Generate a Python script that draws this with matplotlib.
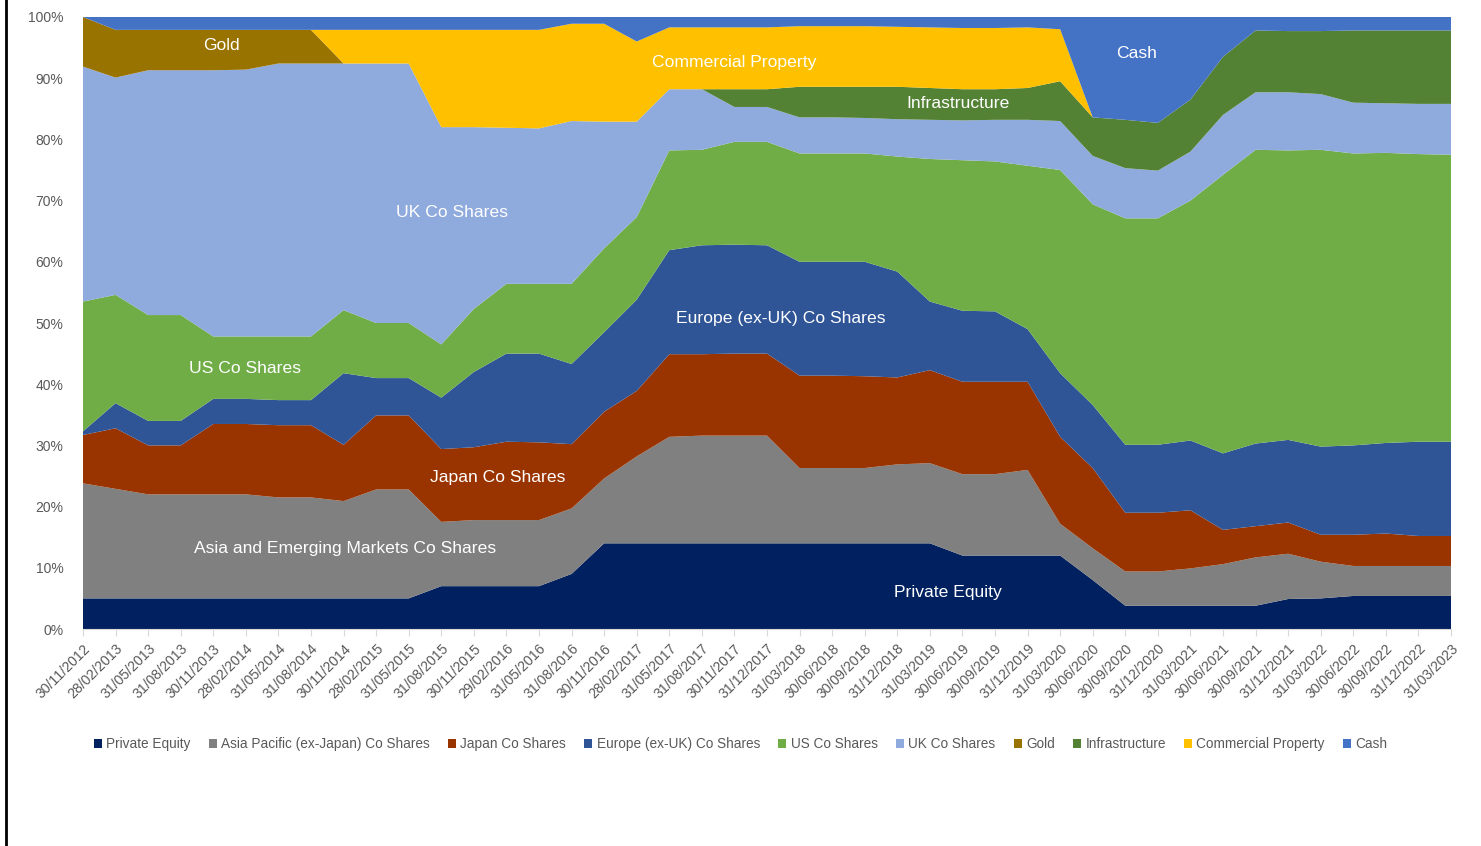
import numpy as np
import matplotlib
matplotlib.use('Agg')
import matplotlib.pyplot as plt
from matplotlib.patches import Patch
from matplotlib.lines import Line2D

plt.rcParams['font.family'] = ['Liberation Sans', 'DejaVu Sans']

DATES = ['30/11/2012', '28/02/2013', '31/05/2013', '31/08/2013', '30/11/2013',
         '28/02/2014', '31/05/2014', '31/08/2014', '30/11/2014', '28/02/2015',
         '31/05/2015', '31/08/2015', '30/11/2015', '29/02/2016', '31/05/2016',
         '31/08/2016', '30/11/2016', '28/02/2017', '31/05/2017', '31/08/2017',
         '30/11/2017', '31/12/2017', '31/03/2018', '30/06/2018', '30/09/2018',
         '31/12/2018', '31/03/2019', '30/06/2019', '30/09/2019', '31/12/2019',
         '31/03/2020', '30/06/2020', '30/09/2020', '31/12/2020', '31/03/2021',
         '30/06/2021', '30/09/2021', '31/12/2021', '31/03/2022', '30/06/2022',
         '30/09/2022', '31/12/2022', '31/03/2023']

private_equity = [5, 5, 5, 5, 5, 5, 5, 5, 5, 5, 5, 7, 7, 7, 7, 9, 14, 14, 14, 14,
                  14, 14, 14, 14, 14, 14, 14, 12, 12, 12, 12, 8, 3.8, 3.8, 3.8, 3.8,
                  3.8, 4.9, 5.0, 5.4, 5.4, 5.4, 5.4]
asia_pacific = [18.8, 17.9, 17.0, 17.0, 17.0, 17.0, 16.5, 16.5, 15.9, 17.8, 17.8,
                10.5, 10.8, 10.8, 10.8, 10.7, 10.6, 14.2, 17.4, 17.6, 17.6, 17.6,
                12.3, 12.3, 12.3, 12.9, 13.1, 13.3, 13.3, 14.0, 5.2, 5.2, 5.6, 5.6,
                6.1, 6.8, 7.9, 7.4, 6.0, 4.9, 4.9, 4.9, 4.9]
japan = [7.9, 9.9, 8.0, 8.0, 11.5, 11.5, 11.8, 11.8, 9.2, 12.1, 12.1, 11.9, 11.9,
         12.8, 12.7, 10.5, 10.9, 10.7, 13.5, 13.3, 13.4, 13.4, 15.1, 15.1, 15.0,
         14.2, 15.2, 15.1, 15.1, 14.4, 14.2, 13.1, 9.6, 9.6, 9.5, 5.6, 5.1, 5.1,
         4.4, 5.1, 5.3, 4.9, 4.9]
europe = [0.6, 4.1, 4.0, 4.0, 4.1, 4.1, 4.1, 4.1, 11.7, 6.1, 6.1, 8.4, 12.3, 14.4,
          14.5, 13.1, 13.0, 14.9, 17.0, 17.8, 17.8, 17.7, 18.6, 18.6, 18.7, 17.3,
          11.2, 11.6, 11.5, 8.6, 10.4, 10.3, 11.1, 11.1, 11.4, 12.5, 13.5, 13.5,
          14.4, 14.6, 14.8, 15.4, 15.4]
us = [21.2, 17.7, 17.3, 17.3, 10.2, 10.2, 10.4, 10.4, 10.3, 9.0, 9.0, 8.7, 10.3,
      11.4, 11.4, 13.1, 13.7, 13.5, 16.3, 15.6, 16.8, 16.9, 17.7, 17.7, 17.7, 18.8,
      23.3, 24.6, 24.5, 26.7, 33.2, 32.8, 37.0, 37.0, 39.2, 45.5, 48.0, 47.3, 48.5,
      47.7, 47.4, 47.0, 46.9]
uk = [38.4, 35.5, 40.0, 40.0, 43.5, 43.6, 44.6, 44.6, 40.3, 42.4, 42.4, 35.5, 29.7,
      25.5, 25.4, 26.6, 20.7, 15.6, 10.0, 9.9, 5.7, 5.7, 5.9, 5.9, 5.8, 6.1, 6.4,
      6.5, 6.8, 7.5, 8.0, 7.9, 8.2, 7.8, 8.0, 9.8, 9.4, 9.5, 9.1, 8.3, 8.1, 8.2, 8.3]
gold = [8.1, 7.8, 6.6, 6.6, 6.6, 6.5, 5.5, 5.5] + [0] * 35
infrastructure = [0] * 20 + [2.9, 2.9, 5.0, 5.0, 5.1, 5.3, 5.2, 5.1, 5.0, 5.2, 6.5,
                             6.3, 7.9, 7.8, 8.5, 9.5, 10.1, 10.0, 10.3, 11.8, 11.9,
                             12.0, 12.0]
commercial_property = [0] * 8 + [5.5, 5.5, 5.5, 15.9, 15.9, 16.0, 16.1, 15.9, 16.0,
                                  13.1, 10.1, 10.1, 10.1, 10.1, 9.9, 9.9, 9.9, 9.8,
                                  9.9, 10.0, 10.0, 9.9, 8.5] + [0] * 12
cash = [0, 2.1, 2.1, 2.1, 2.1, 2.1, 2.1, 2.1, 2.1, 2.1, 2.1, 2.1, 2.1, 2.1, 2.1,
        1.1, 1.1, 4.0, 1.7, 1.7, 1.7, 1.7, 1.5, 1.5, 1.5, 1.6, 1.7, 1.8, 1.8, 1.7,
        2.0, 16.4, 16.8, 17.3, 13.5, 6.5, 2.2, 2.3, 2.3, 2.2, 2.2, 2.2, 2.2]

SERIES = [
    ('Private Equity', private_equity, '#002060'),
    ('Asia Pacific (ex-Japan) Co Shares', asia_pacific, '#808080'),
    ('Japan Co Shares', japan, '#993300'),
    ('Europe (ex-UK) Co Shares', europe, '#2F5597'),
    ('US Co Shares', us, '#70AD47'),
    ('UK Co Shares', uk, '#8FAADC'),
    ('Gold', gold, '#997300'),
    ('Infrastructure', infrastructure, '#548235'),
    ('Commercial Property', commercial_property, '#FFC000'),
    ('Cash', cash, '#4472C4'),
]

AREA_LABELS = [
    ('Gold', 4.24, 95.3),
    ('Commercial Property', 19.99, 92.6),
    ('Infrastructure', 26.87, 85.8),
    ('Cash', 32.36, 94.1),
    ('UK Co Shares', 11.33, 68.0),
    ('Europe (ex-UK) Co Shares', 21.43, 50.8),
    ('US Co Shares', 4.97, 42.6),
    ('Japan Co Shares', 12.74, 24.7),
    ('Asia and Emerging Markets Co Shares', 8.04, 13.2),
    ('Private Equity', 26.56, 5.9),
]

fig = plt.figure(figsize=(14.81, 8.46), dpi=100)
ax = fig.add_axes([83 / 1481, 1 - 629 / 846, 1368 / 1481, 612 / 846])

x = np.arange(len(DATES))
vals = np.array([s[1] for s in SERIES], dtype=float)
vals = vals / vals.sum(axis=0) * 100
ax.stackplot(x, vals, colors=[s[2] for s in SERIES], linewidth=0)

for text, tx, ty in AREA_LABELS:
    ax.text(tx, ty, text, color='white', fontsize=12.6, ha='center', va='center')

ax.set_xlim(0, len(DATES) - 1)
ax.set_ylim(0, 100)
ax.set_yticks(range(0, 101, 10))
ax.set_yticklabels(['%d%%' % v for v in range(0, 101, 10)])
ax.set_xticks(x)
ax.set_xticklabels(DATES, rotation=45, ha='right', rotation_mode='anchor')
ax.tick_params(axis='y', length=0, pad=14, labelsize=10, labelcolor='#595959')
ax.tick_params(axis='x', length=5, color='#D9D9D9', pad=4, labelsize=10.2,
               labelcolor='#595959')
for side in ('left', 'right', 'top'):
    ax.spines[side].set_visible(False)
ax.spines['bottom'].set_color('#D9D9D9')

handles = [Patch(facecolor=c, edgecolor='none') for _, _, c in SERIES]
fig.legend(handles, [s[0] for s in SERIES], loc='center', ncol=10,
           bbox_to_anchor=(0.5, 1 - 744 / 846), frameon=False, fontsize=9.8,
           handlelength=0.6, handleheight=0.6, handletextpad=0.3,
           columnspacing=1.35, labelcolor='#595959')

fig.add_artist(Line2D([5.5 / 1481, 5.5 / 1481], [0, 1], color='black', lw=2))

fig.savefig('out.png', dpi=100, facecolor='white')
